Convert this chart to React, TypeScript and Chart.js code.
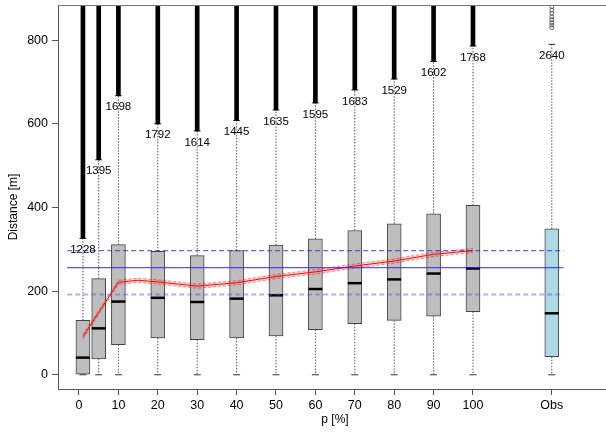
import React, { useEffect, useRef } from 'react';
import { Chart, registerables } from 'chart.js';

Chart.register(...registerables);

// ---- data ----
const positions = [1, 5, 10, 20, 30, 40, 50, 60, 70, 80, 90, 100, 120];
const q1 = [0, 38, 72, 88, 84, 88, 93, 108, 122, 130, 140, 151, 43];
const medians = [41, 111, 175, 184, 174, 182, 190, 205, 219, 228, 242, 254, 147];
const q3 = [130, 230, 311, 295, 285, 297, 310, 325, 345, 361, 385, 405, 349];
const whiskerLow = [0, 0, 0, 0, 0, 0, 0, 0, 0, 0, 0, 0, 0];
const whiskerHigh = [326, 514, 667, 600, 583, 608, 633, 650, 681, 707, 749, 786, 790];
const maxValues = [1228, 1395, 1698, 1792, 1614, 1445, 1635, 1595, 1683, 1529, 1602, 1768, 2640];
const obsOutliers = [830, 836, 842, 849, 856, 864, 872, 880];

const xTickValues = [0, 10, 20, 30, 40, 50, 60, 70, 80, 90, 100, 120];
const xTickLabels = ['0', '10', '20', '30', '40', '50', '60', '70', '80', '90', '100', 'Obs'];
const yTickValues = [0, 200, 400, 600, 800];

const redX = [1, 5, 10, 15, 20, 25, 30, 40, 50, 60, 70, 80, 90, 100];
const redMid = [91, 149, 221, 226, 222, 217, 212, 220, 235, 246, 260, 272, 288, 297];
const redUpper = [96, 154, 226, 231, 227, 222, 217, 225, 240, 251, 265, 277, 293, 302];
const redLower = [86, 144, 216, 221, 217, 212, 207, 215, 230, 241, 255, 267, 283, 292];

const obsMean = 256;
const obsUpper = 297;
const obsLower = 192;
const refLineX = [-3, 123];

const FONT = '"Liberation Sans", Arial, sans-serif';

export default function App() {
  const ref = useRef<HTMLCanvasElement | null>(null);

  useEffect(() => {
    const canvas = ref.current;
    if (!canvas) return;

    const whiskerPts: any[] = [];
    positions.forEach((x, i) => {
      whiskerPts.push({ x, y: q3[i] }, { x, y: whiskerHigh[i] }, { x, y: null });
      whiskerPts.push({ x, y: q1[i] }, { x, y: whiskerLow[i] }, { x, y: null });
    });
    const capPts: any[] = [];
    positions.forEach((x, i) => {
      capPts.push({ x, y: whiskerHigh[i] }, { x, y: whiskerLow[i] });
    });

    const labelsPlugin = {
      id: 'extras',
      afterDatasetsDraw(chart: any) {
        const { ctx, chartArea, scales } = chart;
        const xs = scales.x;
        const ys = scales.y;
        ctx.save();
        // top frame line
        ctx.strokeStyle = '#777';
        ctx.lineWidth = 1;
        ctx.beginPath();
        ctx.moveTo(chartArea.left, chartArea.top + 0.5);
        ctx.lineTo(chartArea.right, chartArea.top + 0.5);
        ctx.stroke();
        // max labels
        ctx.fillStyle = '#000';
        ctx.font = `11.5px ${FONT}`;
        ctx.textAlign = 'center';
        ctx.textBaseline = 'middle';
        positions.forEach((p, i) => {
          const x = xs.getPixelForValue(p);
          const y = ys.getPixelForValue(whiskerHigh[i]) + 11.5;
          ctx.fillText(String(maxValues[i]), x, y);
        });
        // axis titles
        ctx.font = `12px ${FONT}`;
        ctx.fillText('p [%]', 335, 420);
        ctx.translate(14, 207);
        ctx.rotate(-Math.PI / 2);
        ctx.fillText('Distance [m]', 0, 0);
        ctx.restore();
      },
    };

    const chart = new Chart(canvas, {
      type: 'bar',
      data: {
        datasets: [
          {
            type: 'line',
            data: whiskerPts,
            borderColor: '#555',
            borderWidth: 1,
            borderDash: [1.5, 1.5],
            pointRadius: 0,
            spanGaps: false,
            order: 20,
          } as any,
          {
            type: 'scatter',
            data: capPts,
            pointStyle: 'line',
            pointRadius: 3.5,
            borderColor: '#333',
            borderWidth: 1,
            order: 19,
          } as any,
          {
            type: 'bar',
            data: positions.slice(0, 12).map((x, i) => ({ x, y: [whiskerHigh[i], maxValues[i]] })),
            backgroundColor: '#000',
            borderWidth: 0,
            barThickness: 4,
            grouped: false,
            order: 18,
          } as any,
          {
            type: 'scatter',
            data: obsOutliers.map((y) => ({ x: 120, y })),
            pointStyle: 'circle',
            pointRadius: 2,
            borderColor: '#444',
            backgroundColor: 'rgba(0,0,0,0)',
            borderWidth: 0.8,
            order: 17,
          } as any,
          {
            type: 'bar',
            data: positions.map((x, i) => ({ x, y: [q1[i], q3[i]] })),
            backgroundColor: positions.map((x) => (x === 120 ? '#ADD8E6' : '#BEBEBE')),
            borderColor: '#444',
            borderWidth: 1,
            borderSkipped: false,
            barThickness: 14,
            grouped: false,
            order: 15,
          } as any,
          {
            type: 'scatter',
            data: positions.map((x, i) => ({ x, y: medians[i] })),
            pointStyle: 'line',
            pointRadius: 7,
            borderColor: '#000',
            borderWidth: 2.5,
            order: 14,
          } as any,
          {
            type: 'line',
            data: redX.map((x, i) => ({ x, y: redUpper[i] })),
            borderColor: 'rgba(255,0,0,0.6)',
            borderWidth: 0.8,
            borderDash: [3, 2],
            pointRadius: 0,
            fill: '+1',
            backgroundColor: 'rgba(255,80,80,0.2)',
            order: 12,
          } as any,
          {
            type: 'line',
            data: redX.map((x, i) => ({ x, y: redLower[i] })),
            borderColor: 'rgba(255,0,0,0.6)',
            borderWidth: 0.8,
            borderDash: [3, 2],
            pointRadius: 0,
            fill: false,
            order: 11,
          } as any,
          {
            type: 'line',
            data: redX.map((x, i) => ({ x, y: redMid[i] })),
            borderColor: '#ff0000',
            borderWidth: 1,
            pointRadius: 0,
            fill: false,
            order: 10,
          } as any,
          {
            type: 'line',
            data: refLineX.map((x) => ({ x, y: obsMean })),
            borderColor: 'rgba(30,30,255,0.75)',
            borderWidth: 1.2,
            pointRadius: 0,
            order: 5,
          } as any,
          {
            type: 'line',
            data: refLineX.map((x) => ({ x, y: obsUpper })),
            borderColor: 'rgba(40,40,230,0.7)',
            borderWidth: 1.2,
            borderDash: [5, 3],
            pointRadius: 0,
            order: 4,
          } as any,
          {
            type: 'line',
            data: refLineX.map((x) => ({ x, y: obsLower })),
            borderColor: 'rgba(80,80,235,0.45)',
            borderWidth: 2,
            borderDash: [5, 3],
            pointRadius: 0,
            order: 3,
          } as any,
        ],
      },
      options: {
        responsive: false,
        animation: false,
        devicePixelRatio: 1,
        layout: { autoPadding: false, padding: { top: 5, right: 0, left: 0, bottom: 0 } },
        plugins: {
          legend: { display: false },
          tooltip: { enabled: false },
        },
        scales: {
          x: {
            type: 'linear',
            min: -5.33,
            max: 133.76,
            offset: false,
            afterBuildTicks: (s: any) => {
              s.ticks = xTickValues.map((v) => ({ value: v }));
            },
            afterFit: (s: any) => {
              s.height = 46;
              s.paddingLeft = 0;
              s.paddingRight = 0;
            },
            ticks: {
              autoSkip: false,
              maxRotation: 0,
              padding: 3,
              color: '#000',
              font: { size: 12.5, family: FONT },
              callback: (v: any) => {
                const idx = xTickValues.indexOf(Number(v));
                return idx >= 0 ? xTickLabels[idx] : '';
              },
            },
            grid: { display: true, offset: false, drawOnChartArea: false, drawTicks: true, tickLength: 6, color: '#555' },
            border: { display: true, color: '#555', width: 1 },
          },
          y: {
            type: 'linear',
            min: -34,
            max: 884,
            afterBuildTicks: (s: any) => {
              s.ticks = yTickValues.map((v) => ({ value: v }));
            },
            afterFit: (s: any) => {
              s.width = 58;
              s.paddingTop = 0;
              s.paddingBottom = 0;
            },
            ticks: {
              padding: 4,
              color: '#000',
              font: { size: 12.5, family: FONT },
              callback: (v: any) => String(v),
            },
            grid: { display: true, drawOnChartArea: false, drawTicks: true, tickLength: 6, color: '#555' },
            border: { display: true, color: '#555', width: 1 },
          },
        },
      } as any,
      plugins: [labelsPlugin],
    });

    return () => chart.destroy();
  }, []);

  return (
    <canvas
      ref={ref}
      width={606}
      height={435}
      style={{ position: 'fixed', left: 0, top: 0, width: 606, height: 435, background: '#fff' }}
    />
  );
}
